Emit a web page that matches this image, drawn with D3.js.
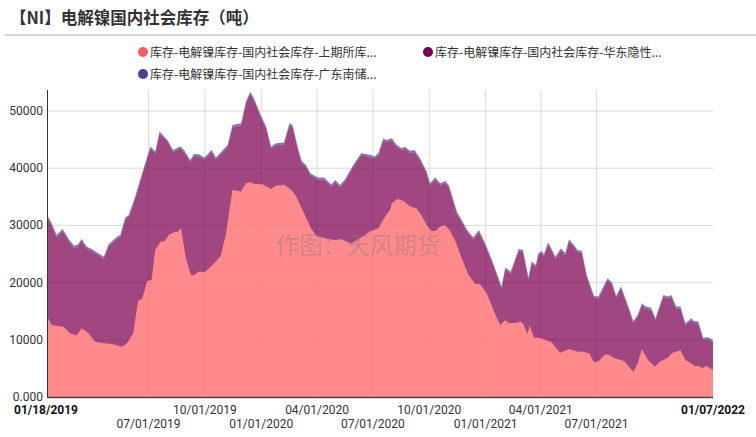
<!DOCTYPE html>
<html><head><meta charset="utf-8">
<script src="https://cdn.jsdelivr.net/npm/d3@7"></script>
<style>body{margin:0;background:#fff;font-family:"Noto Sans CJK SC","Noto Sans",sans-serif}</style>
</head><body><div class="viz"></div>
<script>
// days counted from the first report date
const startDate = "2019-01-18";
const totalDay = [0,6,14,24,33,42,48,55,63,74,91,99,113,118,126,132,143,156,167,175,182,195,204,216,222,232,238,246,255,267,274,293,301,315,323,330,337,348,356,364,372,385,394,399,408,414,421,428,440,450,462,469,476,484,498,511,525,533,539,547,552,
  561,569,577,582,591,598,607,618,623,632,640,648,654,667,675,684,694,703,714,725,740,746,755,768,775,784,789,796,800,806,809,816,828,837,844,850,858,864,871,879,891,898,913,920,927,935,947,955,962,969,975,984,991,1004,1011,1017,1025,1032,1040,1050,1053,1061,1069,1077,1085];
const totalVal = [31540,30370,28330,29380,27750,26470,26580,27630,26290,25710,24540,26700,28040,28330,31370,31830,35330,39990,43780,42910,46410,44950,43200,43780,43200,41450,42440,42440,41860,43200,41860,44070,47570,47860,51650,53400,51950,49030,47280,43780,44370,44480,47860,47570,43490,41280,40580,39120,38360,38360,37200,37950,37080,37950,40580,42620,42330,42030,42620,45240,44950,
  45240,44070,43490,43730,43030,43200,41740,39410,37370,38360,37370,37780,37080,32410,30960,29210,27870,29210,26700,23790,19300,22620,21920,25890,25710,20870,23670,23090,25130,25540,24950,27050,24540,26000,25130,27580,26580,25710,25540,21340,17660,17550,20750,20060,17720,19300,15800,13290,14340,16380,15800,15620,13760,17840,17550,17840,15800,15800,12880,13760,13350,13180,10380,10440,9970,9560];
const shfeDay = [0,6,25,36,47,55,66,77,91,104,121,129,139,147,154,162,169,175,184,190,197,205,212,217,225,233,238,246,255,263,274,282,290,301,315,323,330,337,350,364,372,386,397,405,419,429,438,449,457,468,479,487,495,509,525,539,550,558,
  561,570,580,591,601,609,618,625,632,640,647,654,664,675,686,697,705,716,730,738,746,752,765,771,776,782,786,793,801,812,822,829,836,849,856,864,872,883,891,899,909,916,924,940,955,962,969,979,990,998,1011,1019,1032,1040,1047,1055,1062,1068,1074,1082,1085];
const shfeVal = [13760,12590,12300,11140,10730,12010,11140,9680,9390,9270,8800,9390,11140,16790,17260,20290,20460,25710,27170,27170,28330,28800,28920,29500,24250,21340,21220,21920,21800,22500,23670,24720,28330,36200,35910,37370,37550,37250,37200,36380,36960,37080,36200,35040,31830,29500,28160,27870,27630,27460,27580,27170,26820,27750,28920,29500,31540,32710,
  33870,34630,34280,33290,33000,31830,30080,29030,29030,29790,30080,29320,27460,24250,21340,19820,19710,18130,14340,12590,13470,12880,13000,13180,12710,10960,12480,10380,10380,9970,9560,8510,7750,8340,8220,7930,7930,7640,6060,6300,7460,7350,6760,6300,4430,5890,8340,6470,5310,6180,6880,7750,8160,6470,6060,5420,5420,5010,5480,4900,4720];
const guangdongTons = 350;
const seriesNames = ["库存-电解镍库存-国内社会库存-上期所库...", "库存-电解镍库存-国内社会库存-华东隐性...", "库存-电解镍库存-国内社会库存-广东南储..."];
const seriesColors = ["#f55e62", "#7b0051", "#4a3f96"];
const yTicks = [0, 10000, 20000, 30000, 40000, 50000];
const xTicks = ["2019-07-01","2019-10-01","2020-01-01","2020-04-01","2020-07-01","2020-10-01","2021-01-01","2021-04-01","2021-07-01"];
const firstLabel = "01/18/2019", lastLabel = "01/07/2022";

const W = 756, H = 437;
const svg = d3.select(".viz").append("svg").attr("width", W).attr("height", H);
const parse = d3.timeParse("%Y-%m-%d");
const t0 = parse(startDate);
const dayToDate = d => d3.timeDay.offset(t0, d);

const x = d3.scaleTime().domain([t0, dayToDate(1085)]).range([48, 713]);
const y = d3.scaleLinear().domain([0, 50000]).range([397, 111]);

svg.append("text").attr("x", 10).attr("y", 24).text("【NI】电解镍国内社会库存（吨）")
    .style("font-size", "16.5px").style("font-weight", "bold").attr("fill", "#333");
svg.append("line").attr("x1", 5).attr("x2", W).attr("y1", 35).attr("y2", 35).attr("stroke", "#aaa");

// legend
const legPos = [[143, 52], [428, 52], [143, 74]];
seriesNames.forEach((n, i) => {
    const g = svg.append("g").attr("transform", `translate(${legPos[i][0]},${legPos[i][1]})`);
    g.append("circle").attr("r", 5).attr("fill", seriesColors[i]);
    g.append("text").attr("x", 7).attr("y", 4.5).text(n).style("font-size", "12px").attr("fill", "#333");
});

// grid
svg.append("g").selectAll("line").data(yTicks.slice(1)).join("line")
    .attr("x1", 48).attr("x2", 713).attr("y1", d => y(d)).attr("y2", d => y(d)).attr("stroke", "#e4e4e4");
svg.append("g").selectAll("line").data(xTicks).join("line")
    .attr("x1", d => x(parse(d))).attr("x2", d => x(parse(d))).attr("y1", 90).attr("y2", 397).attr("stroke", "#e4e4e4");

const totalData = totalDay.map((d, i) => ({ t: dayToDate(d), v: totalVal[i] }));
const shfeData = shfeDay.map((d, i) => ({ t: dayToDate(d), v: shfeVal[i] }));

svg.append("path").datum(totalData).attr("fill", "#6a6aac").attr("fill-opacity", 0.9)
    .attr("d", d3.area().x(d => x(d.t)).y0(d => y(d.v - guangdongTons)).y1(d => y(d.v)));
svg.append("path").datum(totalData).attr("fill", "#7b0051").attr("fill-opacity", 0.72)
    .attr("d", d3.area().x(d => x(d.t)).y0(y(0)).y1(d => y(d.v - guangdongTons)));
svg.append("path").datum(shfeData).attr("fill", "#ff8a8c")
    .attr("d", d3.area().x(d => x(d.t)).y0(y(0)).y1(d => y(d.v)));

// faint grid over areas
svg.append("g").selectAll("line").data(yTicks.slice(1)).join("line")
    .attr("x1", 48).attr("x2", 713).attr("y1", d => y(d)).attr("y2", d => y(d)).attr("stroke", "#000").attr("stroke-opacity", 0.04);
svg.append("g").selectAll("line").data(xTicks).join("line")
    .attr("x1", d => x(parse(d))).attr("x2", d => x(parse(d))).attr("y1", 90).attr("y2", 397).attr("stroke", "#000").attr("stroke-opacity", 0.04);

// axes
svg.append("line").attr("x1", 47.5).attr("x2", 47.5).attr("y1", 90).attr("y2", 398).attr("stroke", "#333");
svg.append("line").attr("x1", 47).attr("x2", 713).attr("y1", 397.5).attr("y2", 397.5).attr("stroke", "#444").attr("stroke-width", 1.5);
svg.append("g").selectAll("text").data(yTicks).join("text")
    .attr("x", 43).attr("y", d => y(d) + 4).attr("text-anchor", "end")
    .text(d => d === 0 ? "0.000" : d).style("font-size", "12px").style("font-family", "Roboto, sans-serif").attr("fill", "#333");

const fmt = d3.timeFormat("%m/%d/%Y");
svg.append("g").selectAll("text").data(xTicks).join("text")
    .attr("x", d => x(parse(d))).attr("y", (d, i) => i % 2 ? 414 : 428).attr("text-anchor", "middle")
    .text(d => fmt(parse(d))).style("font-size", "12px").style("font-family", "Roboto, sans-serif").attr("fill", "#333");
svg.append("text").attr("x", 14).attr("y", 414).text(firstLabel)
    .style("font-size", "12px").style("font-weight", "bold").style("font-family", "Roboto, sans-serif").attr("fill", "#111");
svg.append("text").attr("x", 745).attr("y", 414).attr("text-anchor", "end").text(lastLabel)
    .style("font-size", "12px").style("font-weight", "bold").style("font-family", "Roboto, sans-serif").attr("fill", "#111");

svg.append("text").attr("x", 358).attr("y", 254).attr("text-anchor", "middle").text("作图：天风期货")
    .style("font-size", "23.5px").attr("fill", "#777").attr("fill-opacity", 0.35);
</script></body></html>
